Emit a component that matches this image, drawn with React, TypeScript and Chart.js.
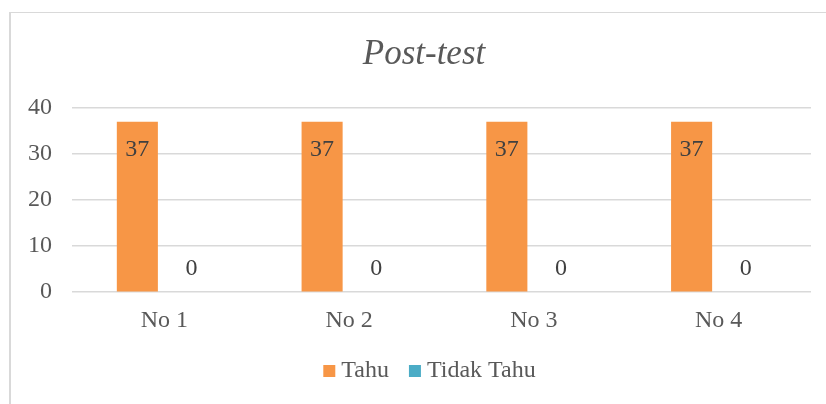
import React, { useEffect, useRef } from "react";
import { Chart, registerables } from "chart.js";

Chart.register(...registerables);

const categories = ["No 1", "No 2", "No 3", "No 4"];
const tahuValues = [37, 37, 37, 37];
const tidakTahuValues = [0, 0, 0, 0];
const seriesNames = ["Tahu", "Tidak Tahu"];
const seriesColors = ["#F79646", "#4BACC6"];
const yTicks = [0, 10, 20, 30, 40];
const titleText = "Post-test";

const FONT = "'Liberation Serif', 'Times New Roman', serif";

const framePlugin = {
  id: "frame",
  beforeDraw(chart: any) {
    const ctx = chart.ctx;
    ctx.save();
    ctx.fillStyle = "#ffffff";
    ctx.fillRect(0, 0, chart.width, chart.height);
    ctx.fillStyle = "#d9d9d9";
    ctx.fillRect(9, 12, 2, chart.height - 12);
    ctx.fillRect(9, 12, chart.width - 9, 1);
    // title
    ctx.font = `italic 35px ${FONT}`;
    ctx.fillStyle = "#595959";
    ctx.textAlign = "center";
    ctx.textBaseline = "middle";
    ctx.fillText(titleText, 424, 55);
    ctx.restore();
  },
};

const valueLabelPlugin = {
  id: "valueLabels",
  afterDatasetsDraw(chart: any) {
    const ctx = chart.ctx;
    ctx.save();
    ctx.font = `24px ${FONT}`;
    ctx.fillStyle = "#404040";
    ctx.textAlign = "center";
    ctx.textBaseline = "middle";
    chart.data.datasets.forEach((ds: any, di: number) => {
      const meta = chart.getDatasetMeta(di);
      meta.data.forEach((bar: any, i: number) => {
        const v = ds.data[i];
        const y = v > 0 ? bar.y + 28 : bar.y - 23;
        ctx.fillText(String(v), bar.x, y);
      });
    });
    ctx.restore();
  },
};

const customLegendPlugin = {
  id: "customLegend",
  afterDraw(chart: any) {
    const ctx = chart.ctx;
    ctx.save();
    ctx.font = `24px ${FONT}`;
    ctx.textBaseline = "middle";
    ctx.textAlign = "left";
    const box = 12;
    const gapText = 6;
    const gapItem = 20;
    const items = chart.data.datasets.map((ds: any) => ({
      text: ds.label,
      color: ds.backgroundColor,
      w: ctx.measureText(ds.label).width,
    }));
    let total = 0;
    items.forEach((it: any, i: number) => {
      total += box + gapText + it.w + (i < items.length - 1 ? gapItem : 0);
    });
    const area = chart.chartArea;
    let x = (area.left + area.right) / 2 - total / 2 - 12;
    const cy = 371;
    items.forEach((it: any) => {
      ctx.fillStyle = it.color;
      ctx.fillRect(x, cy - 6, box, box);
      ctx.fillStyle = "#595959";
      ctx.fillText(it.text, x + box + gapText, cy);
      x += box + gapText + it.w + gapItem;
    });
    ctx.restore();
  },
};

export default function App() {
  const ref = useRef<HTMLCanvasElement | null>(null);

  useEffect(() => {
    if (!ref.current) return;
    const chart = new Chart(ref.current, {
      type: "bar",
      data: {
        labels: categories,
        datasets: [
          {
            label: seriesNames[0],
            data: tahuValues,
            backgroundColor: seriesColors[0],
            categoryPercentage: 0.585,
            barPercentage: 0.76,
          },
          {
            label: seriesNames[1],
            data: tidakTahuValues,
            backgroundColor: seriesColors[1],
            categoryPercentage: 0.585,
            barPercentage: 0.76,
          },
        ],
      },
      options: {
        responsive: false,
        animation: false,
        devicePixelRatio: 1,
        layout: { padding: { left: 8, right: 15, top: 108, bottom: 55 } },
        plugins: {
          legend: { display: false },
          tooltip: { enabled: false },
          title: { display: false },
        },
        scales: {
          x: {
            grid: { display: false, drawTicks: false },
            border: { display: false },
            ticks: {
              color: "#595959",
              font: { family: FONT, size: 24 },
              padding: 14,
            },
          },
          y: {
            min: 0,
            max: 40,
            afterBuildTicks: (scale: any) => {
              scale.ticks = yTicks.map((v) => ({ value: v }));
            },
            grid: { color: "#d9d9d9", lineWidth: 1.5, drawTicks: false },
            border: { display: false },
            ticks: {
              color: "#595959",
              font: { family: FONT, size: 24 },
              padding: 20,
            },
          },
        },
      },
      plugins: [framePlugin, valueLabelPlugin, customLegendPlugin],
    });
    return () => chart.destroy();
  }, []);

  return (
    <div style={{ position: "absolute", left: 0, top: 0, width: 826, height: 404 }}>
      <canvas ref={ref} width={826} height={404} />
    </div>
  );
}
